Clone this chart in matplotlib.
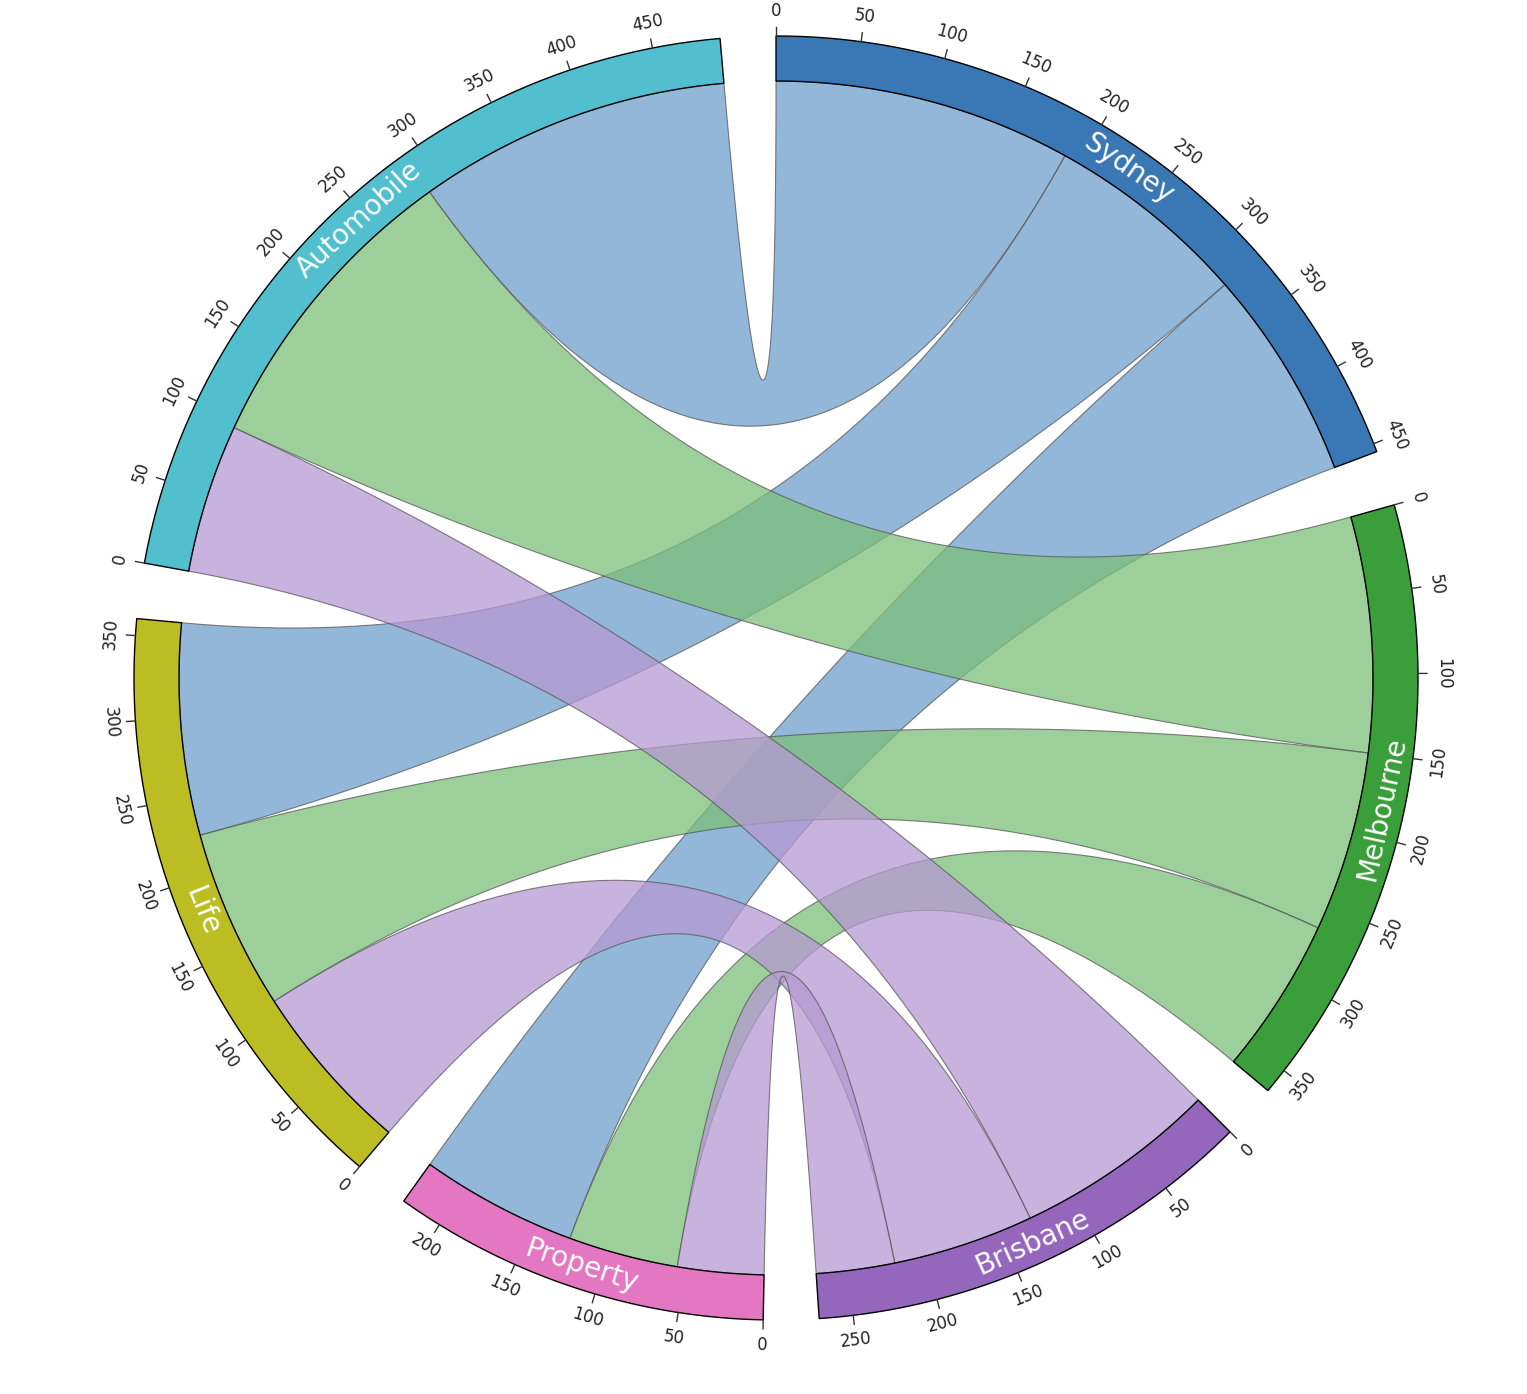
import numpy as np
import matplotlib
matplotlib.use("Agg")
import matplotlib.pyplot as plt
from matplotlib.patches import Polygon

# segments (clockwise from top)
names = ["Sydney", "Melbourne", "Brisbane", "Property", "Life", "Automobile"]
totals = [455, 365, 270, 225, 360, 490]
colors = ["#3a78b5", "#3a9e3a", "#9467bd", "#e377c2", "#bcbd22", "#52bfcf"]
chord_colors = {"Sydney": "#6f9fcb", "Melbourne": "#7cc07a", "Brisbane": "#b699d3"}

# chords: source, target, value at source end, value at target end (in order along segments)
sources = ["Sydney", "Sydney", "Sydney", "Melbourne", "Melbourne", "Melbourne", "Brisbane", "Brisbane", "Brisbane"]
targets = ["Automobile", "Life", "Property", "Automobile", "Life", "Property", "Automobile", "Life", "Property"]
src_vals = [190, 130, 135, 150, 115, 100, 130, 90, 50]
# target-side values in per-target order
tgt_vals = {"Automobile": {"Brisbane": 95, "Melbourne": 195, "Sydney": 200},
            "Life": {"Brisbane": 110, "Melbourne": 115, "Sydney": 135},
            "Property": {"Brisbane": 55, "Melbourne": 70, "Sydney": 100}}

W, H = 1527, 1394
cx, cy = 776, 678
R_in, R_out = 597, 642
gap = 5.0
scale = (360 - gap * len(names)) / sum(totals)

offsets = {}
o = 0.0
for n, t in zip(names, totals):
    offsets[n] = o
    o += t * scale + gap

def ang(seg, v):
    return np.deg2rad(90 - offsets[seg] - v * scale)

def pt(a, r):
    return np.array([cx + r * np.cos(a), cy - r * np.sin(a)])

def arc(seg, v1, v2, r, n=60):
    a = np.linspace(ang(seg, v1), ang(seg, v2), n)
    return np.column_stack([cx + r * np.cos(a), cy - r * np.sin(a)])

def bez(p0, p2, n=60):
    t = np.linspace(0, 1, n)[:, None]
    c = np.array([cx, cy])
    return (1 - t) ** 2 * p0 + 2 * (1 - t) * t * c + t ** 2 * p2

fig = plt.figure(figsize=(W / 100, H / 100), dpi=100)
ax = fig.add_axes([0, 0, 1, 1])
ax.set_xlim(0, W)
ax.set_ylim(H, 0)
ax.axis("off")

cur_src = {n: 0.0 for n in names}
tgt_start = {}
for tg, d in tgt_vals.items():
    s = 0.0
    for k in ["Brisbane", "Melbourne", "Sydney"]:
        tgt_start[(tg, k)] = (s, s + d[k])
        s += d[k]

for s, t, v in zip(sources, targets, src_vals):
    a1, a2 = cur_src[s], cur_src[s] + v
    cur_src[s] = a2
    b1, b2 = tgt_start[(t, s)]
    A = arc(s, a1, a2, R_in)
    B = arc(t, b1, b2, R_in)
    path = np.vstack([A, bez(A[-1], B[0]), B, bez(B[-1], A[0])])
    ax.add_patch(Polygon(path, closed=True, facecolor=chord_colors[s], alpha=0.75,
                         edgecolor="#555555", linewidth=0.8, zorder=2))

def upright(rot):
    rot = (rot + 180) % 360 - 180
    if rot > 90:
        rot -= 180
    elif rot < -90:
        rot += 180
    return rot

for n, t, c in zip(names, totals, colors):
    outer = arc(n, 0, t, R_out)
    inner = arc(n, t, 0, R_in)
    ax.add_patch(Polygon(np.vstack([outer, inner]), closed=True, facecolor=c,
                         edgecolor="black", linewidth=1, zorder=3))
    for v in range(0, int(t) + 1, 50):
        a = ang(n, v)
        p1, p2 = pt(a, R_out), pt(a, R_out + 9)
        ax.plot([p1[0], p2[0]], [p1[1], p2[1]], color="#333333", lw=1, zorder=3)
        lp = pt(a, R_out + 25)
        ax.text(lp[0], lp[1], str(v), rotation=upright(np.rad2deg(a) - 90),
                ha="center", va="center", fontsize=12, color="#222222", zorder=4)
    a = ang(n, t / 2)
    lp = pt(a, (R_in + R_out) / 2)
    ax.text(lp[0], lp[1], n, rotation=upright(np.rad2deg(a) - 90), ha="center",
            va="center", fontsize=20, color="white", zorder=4)

fig.savefig("out.png", dpi=100)
